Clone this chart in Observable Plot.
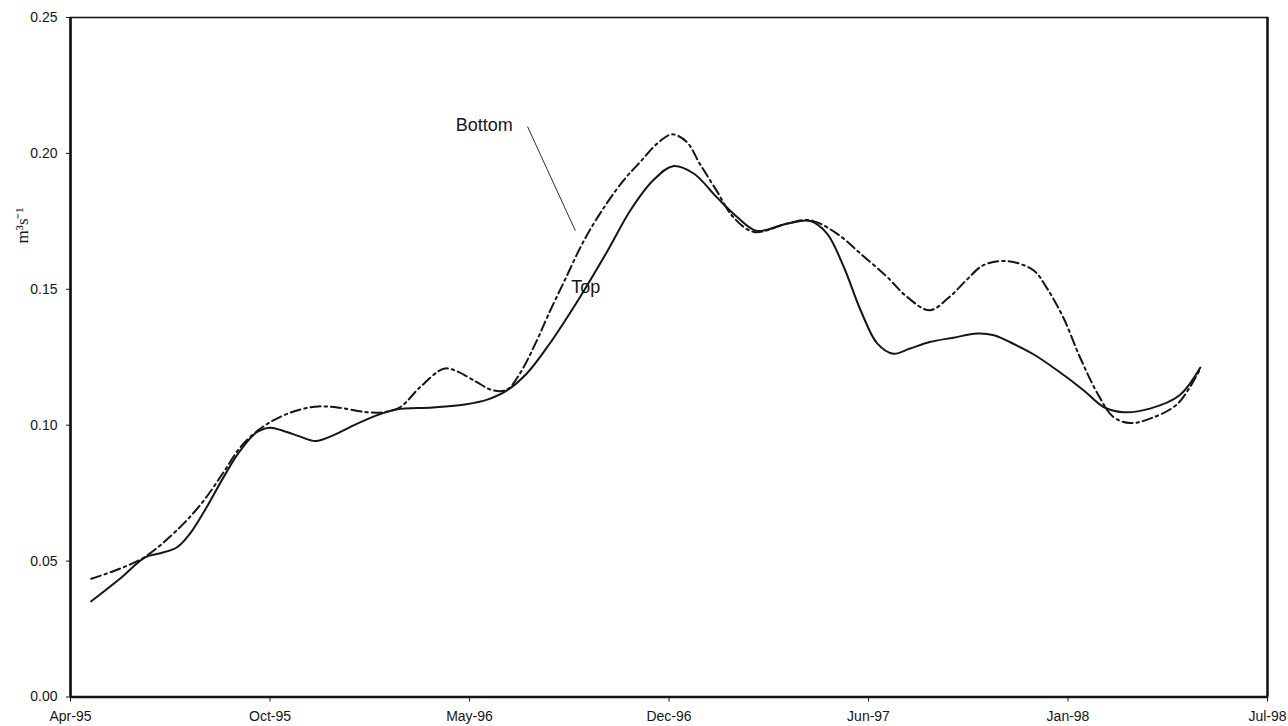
<!DOCTYPE html>
<html>
<head>
<meta charset="utf-8">
<script src="https://cdn.jsdelivr.net/npm/d3@7"></script>
<script src="https://cdn.jsdelivr.net/npm/@observablehq/plot@0.6"></script>
<style>
  body { margin: 0; background: #fff; }
  #chart svg { display: block; }
</style>
</head>
<body>
<div id="chart"></div>
<script>
// ---- Data ----
const topDates = ["1995-04-27","1995-05-26","1995-06-21","1995-07-06","1995-07-23","1995-08-05","1995-08-22","1995-09-08","1995-09-25","1995-10-12","1995-10-25","1995-11-11","1995-11-24","1995-12-10","1995-12-30","1996-01-14","1996-02-10","1996-03-01","1996-04-07","1996-05-11","1996-06-01","1996-06-21","1996-07-11","1996-08-02","1996-09-03","1996-10-01","1996-10-24","1996-11-16","1996-12-06","1996-12-27","1997-01-19","1997-02-09","1997-03-01","1997-04-01","1997-04-24","1997-05-11","1997-05-28","1997-06-14","1997-07-01","1997-07-17","1997-08-03","1997-08-23","1997-09-16","1997-10-10","1997-10-27","1997-11-12","1997-12-06","1997-12-30","1998-01-26","1998-02-15","1998-03-07","1998-04-03","1998-05-03","1998-05-24"];
const topValues = [0.0352,0.0435,0.0515,0.0529,0.0551,0.0601,0.0699,0.0809,0.0907,0.0975,0.0991,0.0975,0.0959,0.0942,0.0966,0.0993,0.1036,0.1058,0.1065,0.1077,0.1094,0.1128,0.1190,0.1294,0.1472,0.1643,0.1791,0.1901,0.1953,0.1926,0.1840,0.1766,0.1715,0.1742,0.1751,0.1705,0.1582,0.1423,0.1300,0.1263,0.1282,0.1306,0.1322,0.1337,0.1331,0.1306,0.1261,0.1202,0.1128,0.1067,0.1048,0.1061,0.1110,0.1212];

const bottomDates = ["1995-04-27","1995-05-26","1995-06-21","1995-07-26","1995-08-19","1995-09-08","1995-09-25","1995-10-15","1995-11-04","1995-11-24","1995-12-13","1996-01-04","1996-01-31","1996-02-17","1996-03-05","1996-03-25","1996-04-18","1996-05-01","1996-05-21","1996-06-07","1996-06-21","1996-07-04","1996-07-21","1996-08-01","1996-08-18","1996-09-07","1996-09-27","1996-10-17","1996-11-03","1996-11-20","1996-12-05","1996-12-20","1997-01-02","1997-01-19","1997-02-05","1997-02-26","1997-04-01","1997-04-24","1997-05-21","1997-06-14","1997-07-11","1997-07-31","1997-08-23","1997-09-12","1997-09-29","1997-10-16","1997-11-09","1997-12-06","1997-12-19","1998-01-05","1998-01-22","1998-02-09","1998-02-25","1998-03-14","1998-04-03","1998-05-01","1998-05-24"];
const bottomValues = [0.0435,0.0472,0.0517,0.0625,0.0723,0.0827,0.0919,0.0987,0.1030,0.1057,0.1069,0.1064,0.1048,0.1048,0.1067,0.1140,0.1208,0.1199,0.1159,0.1128,0.1131,0.1190,0.1310,0.1400,0.1530,0.1680,0.1800,0.1901,0.1969,0.2036,0.2070,0.2042,0.1963,0.1864,0.1766,0.1711,0.1742,0.1754,0.1705,0.1631,0.1545,0.1472,0.1423,0.1472,0.1533,0.1588,0.1604,0.1570,0.1508,0.1398,0.1251,0.1116,0.1030,0.1008,0.1024,0.1079,0.1208];

const xTickDates = ["1995-04-06","1995-10-25","1996-05-14","1996-12-02","1997-06-22","1998-01-10","1998-07-31"];
const xTickLabels = ["Apr-95","Oct-95","May-96","Dec-96","Jun-97","Jan-98","Jul-98"];
const yTicks = [0, 0.05, 0.10, 0.15, 0.20, 0.25];
const yLabel = "m³s⁻¹";

const seriesLabels = ["Bottom", "Top"];
const seriesLabelDates = ["1996-04-30", "1996-08-25"];
const seriesLabelValues = [0.2104, 0.1507];
const leaderDates = ["1996-07-12", "1996-08-29"];
const leaderValues = [0.2097, 0.1717];

// ---- Build tables ----
const parse = s => new Date(s + "T00:00:00Z");
const topData = topDates.map((d, i) => ({date: parse(d), value: topValues[i]}));
const bottomData = bottomDates.map((d, i) => ({date: parse(d), value: bottomValues[i]}));
const ticks = xTickDates.map(parse);
const labelData = seriesLabels.map((t, i) => ({text: t, date: parse(seriesLabelDates[i]), value: seriesLabelValues[i]}));
const leaderData = leaderDates.map((d, i) => ({date: parse(d), value: leaderValues[i]}));

const ink = "#151515";

const chart = Plot.plot({
  width: 1288,
  height: 726,
  marginLeft: 70,
  marginRight: 21,
  marginTop: 17,
  marginBottom: 29.5,
  style: {fontFamily: "'Liberation Sans', Arial, sans-serif", fontSize: "14px", color: ink, background: "#fff"},
  x: {type: "utc", domain: [ticks[0], ticks[ticks.length - 1]]},
  y: {domain: [0, 0.25]},
  marks: [
    Plot.frame({stroke: ink, strokeWidth: 1.6}),
    Plot.ruleX([ticks[0]], {stroke: ink, strokeWidth: 2.6}),
    Plot.ruleX([ticks[ticks.length - 1]], {stroke: ink, strokeWidth: 2.4}),
    Plot.ruleY([0], {stroke: ink, strokeWidth: 2.4}),
    Plot.axisX({
      ticks: ticks,
      tickFormat: d => xTickLabels[ticks.findIndex(t => +t === +d)],
      tickSize: 5,
      tickPadding: 9,
      label: null,
      stroke: ink
    }),
    Plot.axisY({
      ticks: yTicks,
      tickFormat: d3.format(".2f"),
      tickSize: 4,
      tickPadding: 9,
      label: null,
      stroke: ink
    }),
    Plot.text([yLabel], {
      x: () => ticks[0], y: () => 0.1735, text: d => d,
      dx: -48, rotate: -90,
      fontFamily: "'Liberation Serif', 'Times New Roman', serif", fontSize: 17, fill: ink
    }),
    Plot.line(bottomData, {
      x: "date", y: "value", curve: "catmull-rom",
      stroke: ink, strokeWidth: 2, strokeDasharray: "10,4,2.5,4"
    }),
    Plot.line(topData, {
      x: "date", y: "value", curve: "catmull-rom",
      stroke: ink, strokeWidth: 2
    }),
    Plot.line(leaderData, {x: "date", y: "value", stroke: ink, strokeWidth: 0.9}),
    Plot.text(labelData, {
      x: "date", y: "value", text: "text", textAnchor: "start",
      fontSize: 18, fill: ink
    })
  ]
});

document.getElementById("chart").appendChild(chart);
</script>
</body>
</html>
